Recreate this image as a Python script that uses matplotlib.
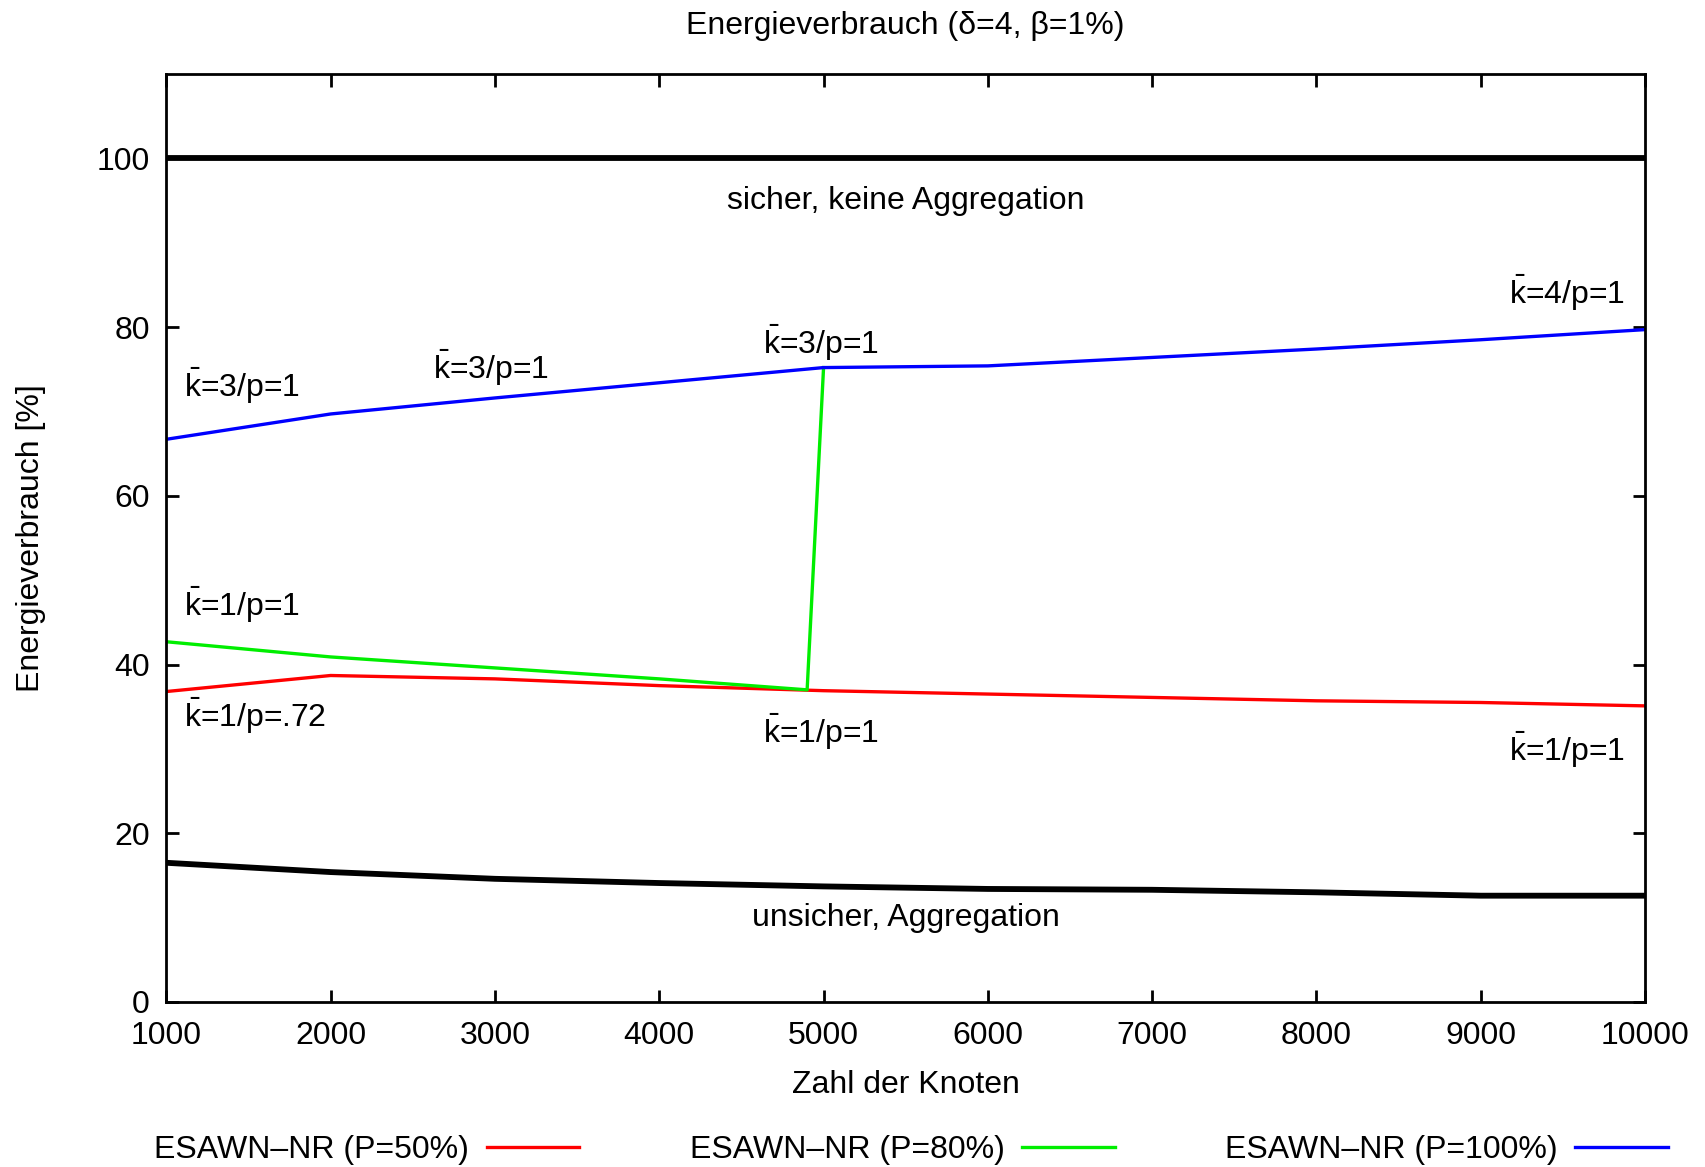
import numpy as np
import matplotlib
matplotlib.use('Agg')
import matplotlib.pyplot as plt

plt.rcParams['font.family'] = ['Liberation Sans', 'DejaVu Sans']
plt.rcParams['font.size'] = 23
plt.rcParams['mathtext.fontset'] = 'custom'
plt.rcParams['mathtext.rm'] = 'Liberation Sans'
plt.rcParams['mathtext.it'] = 'Liberation Sans'

# data
nodes = [1000, 2000, 3000, 4000, 5000, 6000, 7000, 8000, 9000, 10000]
secure_no_agg = [100, 100, 100, 100, 100, 100, 100, 100, 100, 100]
insecure_agg = [16.5, 15.4, 14.6, 14.1, 13.7, 13.4, 13.3, 13.0, 12.6, 12.6]
esawn_50 = [36.8, 38.7, 38.3, 37.5, 36.9, 36.5, 36.1, 35.7, 35.5, 35.1]
esawn_80_x = [1000, 2000, 3000, 4000, 4900, 5000]
esawn_80 = [42.7, 40.9, 39.6, 38.3, 37.0, 75.2]
esawn_100 = [66.7, 69.7, 71.6, 73.4, 75.2, 75.4, 76.4, 77.4, 78.5, 79.7]

series_labels = ['ESAWN\u2013NR (P=50%)', 'ESAWN\u2013NR (P=80%)', 'ESAWN\u2013NR (P=100%)']

# annotation labels: (x, y, text)
kbar = r'$\bar{\mathrm{k}}$'
annotations = [
    (1110, 73.0, kbar + '=3/p=1'),
    (2620, 75.1, kbar + '=3/p=1'),
    (4630, 78.1, kbar + '=3/p=1'),
    (9170, 84.0, kbar + '=4/p=1'),
    (1110, 47.0, kbar + '=1/p=1'),
    (1110, 33.9, kbar + '=1/p=.72'),
    (4630, 32.0, kbar + '=1/p=1'),
    (9170, 29.9, kbar + '=1/p=1'),
]

fig = plt.figure(figsize=(17.06, 11.67), dpi=100)
ax = fig.add_axes([0.0975, 0.1414, 0.8668, 0.7952])
xc = 0.0975 + 0.8668 / 2
yc = 0.1414 + 0.7952 / 2

ax.plot(nodes, secure_no_agg, color='black', lw=4.2)
ax.plot(nodes, insecure_agg, color='black', lw=4.2)
l1, = ax.plot(nodes, esawn_50, color='#ff0000', lw=2.4)
l2, = ax.plot(esawn_80_x, esawn_80, color='#00ee00', lw=2.4)
l3, = ax.plot(nodes, esawn_100, color='#0000ff', lw=2.4)

ax.text(5500, 95.0, 'sicher, keine Aggregation', ha='center', va='center')
ax.text(5500, 9.9, 'unsicher, Aggregation', ha='center', va='center')
for x, y, s in annotations:
    ax.text(x, y, s, ha='left', va='center')

ax.set_xlim(1000, 10000)
ax.set_ylim(0, 110)
ax.set_xticks(nodes)
ax.set_yticks([0, 20, 40, 60, 80, 100])
ax.tick_params(direction='in', length=9, width=2, top=True, right=True)
ax.tick_params(axis='x', pad=14)
ax.tick_params(axis='y', pad=12)
for sp in ax.spines.values():
    sp.set_linewidth(2)

fig.text(xc, 1 - 26 / 1167, 'Energieverbrauch (\u03b4=4, \u03b2=1%)', ha='center', va='center')
fig.text(xc, 1 - 1085 / 1167, 'Zahl der Knoten', ha='center', va='center')
fig.text(31 / 1706, yc, 'Energieverbrauch [%]', ha='center', va='center', rotation=90)

fig.legend([l1, l2, l3], series_labels, loc='center', ncol=3,
           bbox_to_anchor=(0.534, 1 - 1150 / 1167), frameon=False,
           markerfirst=False, handlelength=2.9, handletextpad=0.55,
           columnspacing=3.45, borderpad=0)

fig.savefig('out.png', dpi=100)
